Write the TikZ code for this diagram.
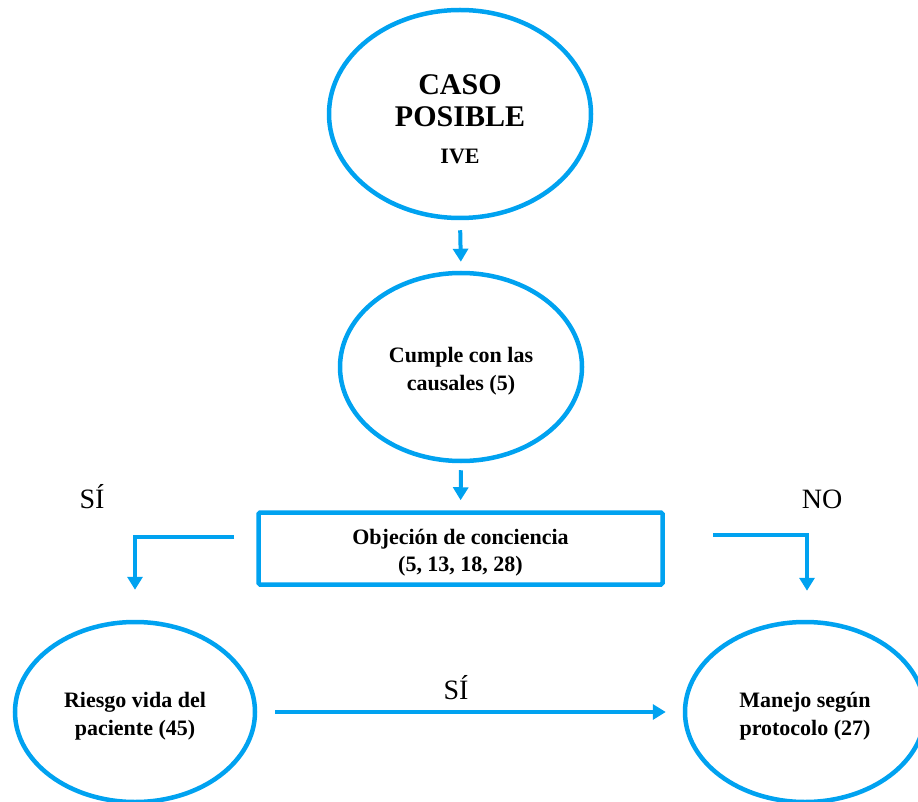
\documentclass[tikz,border=0pt]{standalone}
\usepackage{fontspec}
\setmainfont{Liberation Serif}
\usetikzlibrary{shapes.geometric,arrows.meta}
\definecolor{cblue}{RGB}{0,162,240}
\newcommand{\tallstrut}{\rule{0pt}{23pt}}
\begin{document}
\begin{tikzpicture}[x=1pt,y=-1pt,
  shapeline/.style={draw=cblue,line width=4.5pt},
  oval/.style={shapeline,ellipse,inner sep=0pt,align=center,font=\bfseries\fontsize{22}{28}\selectfont},
  boxnode/.style={shapeline,rectangle,rounded corners=1.5pt,inner sep=0pt,align=center,font=\bfseries\fontsize{22}{27}\selectfont},
  flow/.style={draw=cblue,line width=4pt,-{Triangle[length=13pt,width=15pt]}},
  lbl/.style={font=\fontsize{28}{32}\selectfont,anchor=base,inner sep=0pt}]
\useasboundingbox (0,0) rectangle (918,802);
\clip (0,0) rectangle (918,802);
\node[oval,minimum width=262pt,minimum height=208pt] (caso) at (460,114)
  {\fontsize{30}{32}\selectfont \rule{0pt}{30pt}CASO\\[4pt]\fontsize{30}{32}\selectfont POSIBLE\\[9pt]\fontsize{22}{26}\selectfont IVE};
\node[oval,minimum width=242pt,minimum height=188pt] (cumple) at (461,367)
  {\tallstrut Cumple con las\\causales (5)};
\node[boxnode,minimum width=404pt,minimum height=72pt] (objecion) at (460.5,548.5)
  {\tallstrut Objeción de conciencia\\(5, 13, 18, 28)};
\node[oval,minimum width=240pt,minimum height=180pt] (riesgo) at (135,712)
  {\tallstrut Riesgo vida del\\paciente (45)};
\node[oval,minimum width=240pt,minimum height=180pt] (manejo) at (805,712)
  {\tallstrut Manejo según\\protocolo (27)};
\coordinate (lstart) at (234,537);
\coordinate (rstart) at (713,535);
\draw[flow,shorten <=10pt,shorten >=9pt] (caso.south) -- (cumple.north);
\draw[flow,shorten <=7pt,shorten >=10pt] (cumple.south) -- (objecion.north);
\draw[flow,shorten >=30pt] (lstart) -| (riesgo.north);
\draw[flow,shorten >=29pt] (rstart) -| ([xshift=2pt]manejo.north);
\draw[flow,shorten <=18pt,shorten >=17pt] (riesgo.east) -- (manejo.west);
\node[lbl] (si1) at (92,508) {SÍ};
\node[lbl] (no1) at (822,508) {NO};
\node[lbl] (si2) at (456,699) {SÍ};
\end{tikzpicture}
\end{document}
